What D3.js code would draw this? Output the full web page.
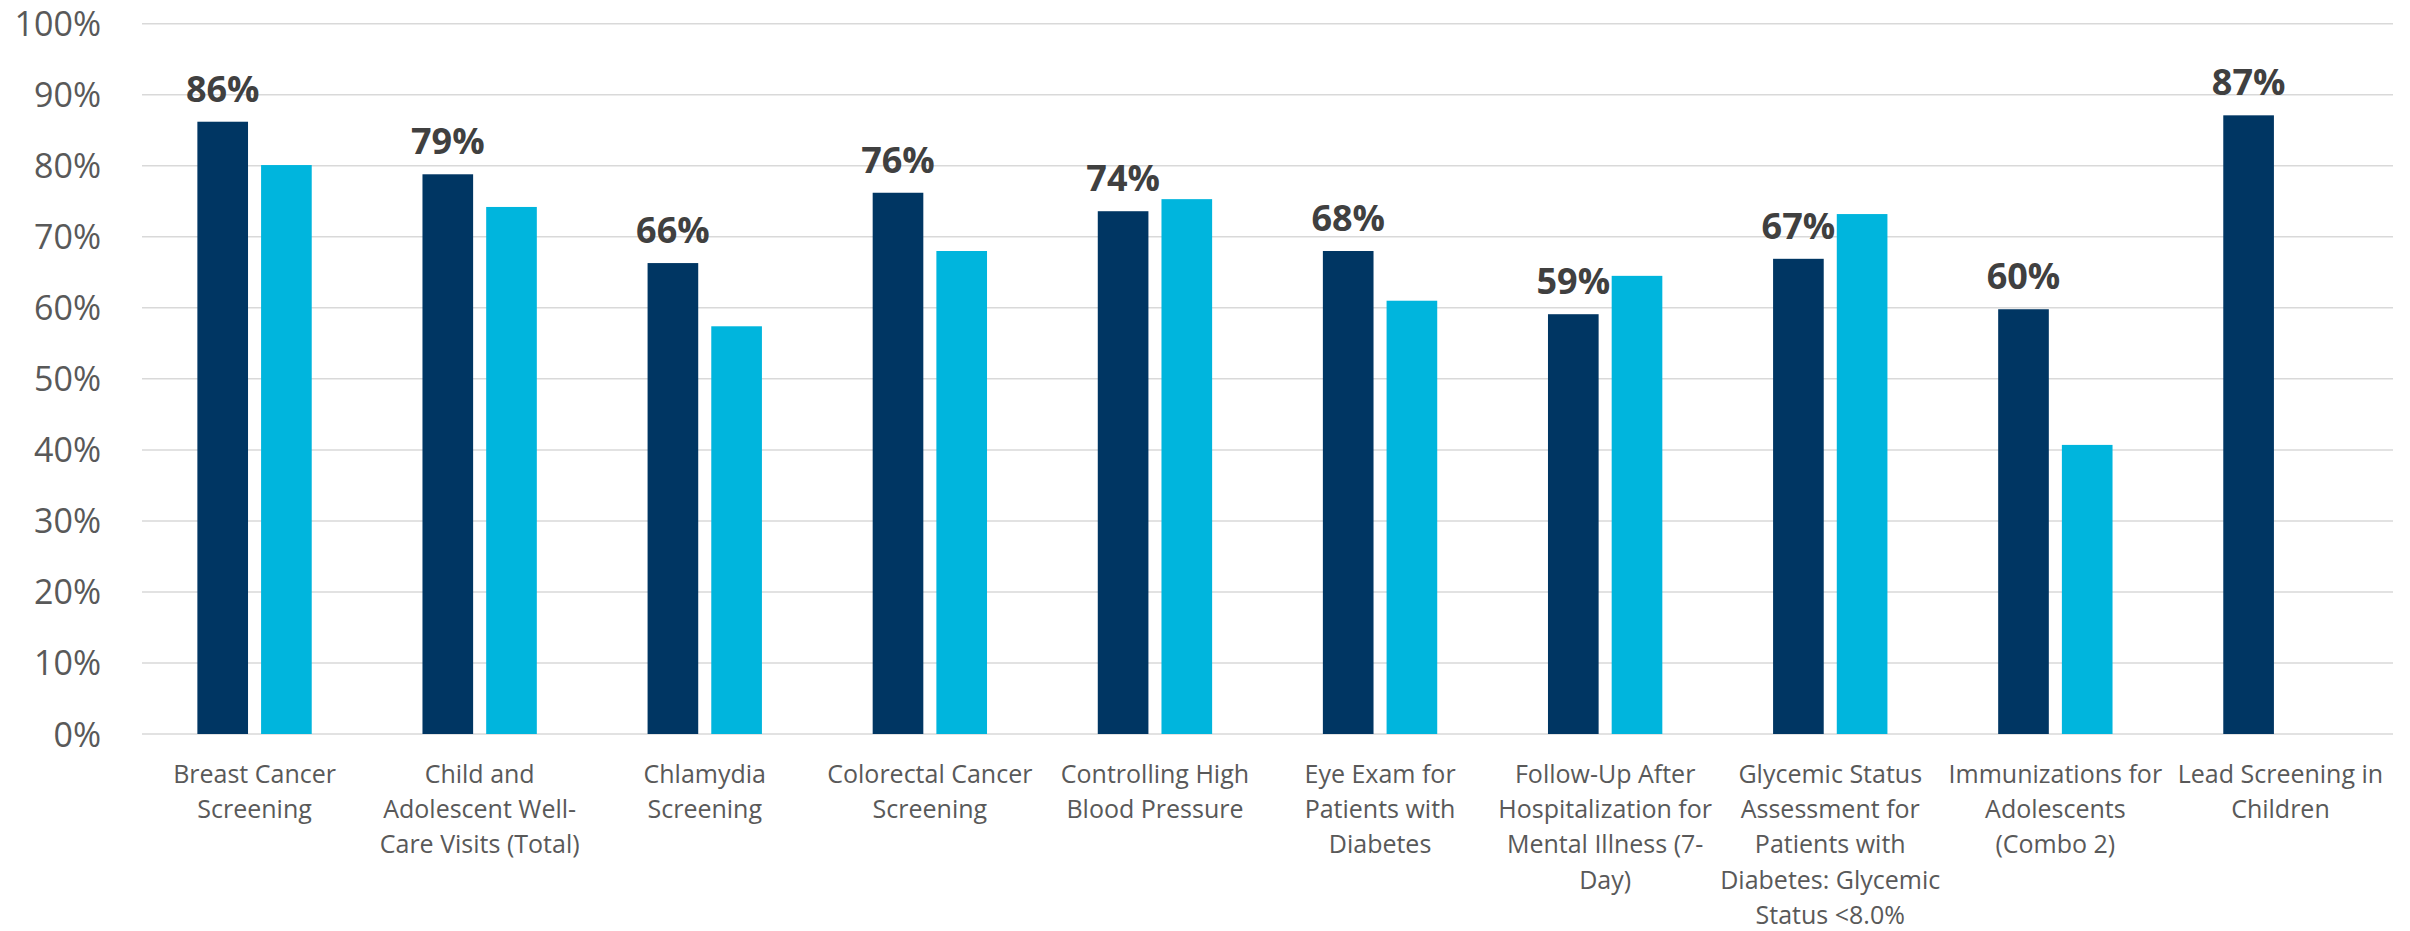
<!DOCTYPE html>
<html>
<head>
<meta charset="utf-8">
<script src="https://cdn.jsdelivr.net/npm/d3@7"></script>
<style>
  html, body { margin: 0; padding: 0; background: #ffffff; }
  svg { display: block; font-family: "Segoe UI", "Open Sans", "Noto Sans", sans-serif; }
</style>
</head>
<body>
<svg id="chart" width="2410" height="931"></svg>
<script>
// Quality measures (line breaks as shown under each group)
const categories = [
  "Breast Cancer\nScreening",
  "Child and\nAdolescent Well-\nCare Visits (Total)",
  "Chlamydia\nScreening",
  "Colorectal Cancer\nScreening",
  "Controlling High\nBlood Pressure",
  "Eye Exam for\nPatients with\nDiabetes",
  "Follow-Up After\nHospitalization for\nMental Illness (7-\nDay)",
  "Glycemic Status\nAssessment for\nPatients with\nDiabetes: Glycemic\nStatus <8.0%",
  "Immunizations for\nAdolescents\n(Combo 2)",
  "Lead Screening in\nChildren"
];

// Rates, in percent
const planRates = [86.2, 78.8, 66.3, 76.2, 73.6, 68.0, 59.1, 66.9, 59.8, 87.1];
const benchmarkRates = [80.1, 74.2, 57.4, 68.0, 75.3, 61.0, 64.5, 73.2, 40.7, null];

const yTicks = [0, 10, 20, 30, 40, 50, 60, 70, 80, 90, 100];

const colors = { plan: "#003663", benchmark: "#00B5DD" };

const svg = d3.select("#chart");
const margin = { left: 142, right: 17, top: 23.7, bottom: 197 };
const W = 2410, H = 931;

const x = d3.scaleBand()
  .domain(d3.range(categories.length))
  .range([margin.left, W - margin.right])
  .padding(0);

const y = d3.scaleLinear()
  .domain([0, 100])
  .range([H - margin.bottom, margin.top]);

const bw = x.bandwidth();
const barW = bw * 0.225;
const barGap = bw * 0.058;

// Gridlines
svg.append("g")
  .selectAll("line")
  .data(yTicks)
  .join("line")
  .attr("x1", margin.left)
  .attr("x2", W - margin.right)
  .attr("y1", d => y(d))
  .attr("y2", d => y(d))
  .attr("stroke", "#d9d9d9")
  .attr("stroke-width", 1.5);

// Y axis labels
svg.append("g")
  .selectAll("text")
  .data(yTicks)
  .join("text")
  .attr("x", 101)
  .attr("y", d => y(d) + 12.5)
  .attr("text-anchor", "end")
  .attr("font-size", 34)
  .attr("fill", "#595959")
  .text(d => d + "%");

// Bars
const groups = svg.append("g")
  .selectAll("g")
  .data(categories.map((c, i) => i))
  .join("g")
  .attr("transform", i => `translate(${x(i) + bw / 2},0)`);

groups.append("rect")
  .attr("x", -barGap / 2 - barW)
  .attr("width", barW)
  .attr("y", i => y(planRates[i]))
  .attr("height", i => y(0) - y(planRates[i]))
  .attr("fill", colors.plan);

groups.filter(i => benchmarkRates[i] != null)
  .append("rect")
  .attr("x", barGap / 2)
  .attr("width", barW)
  .attr("y", i => y(benchmarkRates[i]))
  .attr("height", i => y(0) - y(benchmarkRates[i]))
  .attr("fill", colors.benchmark);

// Value labels above the plan bars
groups.append("text")
  .attr("x", -barGap / 2 - barW / 2)
  .attr("y", i => y(planRates[i]) - 20)
  .attr("text-anchor", "middle")
  .attr("font-size", 36)
  .attr("font-weight", "bold")
  .attr("fill", "#404040")
  .text(i => Math.round(planRates[i]) + "%");

// Category labels
groups.append("text")
  .attr("text-anchor", "middle")
  .attr("font-size", 25)
  .attr("fill", "#595959")
  .selectAll("tspan")
  .data(i => categories[i].split("\n"))
  .join("tspan")
  .attr("x", 0)
  .attr("y", (d, k) => y(0) + 49 + k * 35.2)
  .text(d => d);
</script>
</body>
</html>
